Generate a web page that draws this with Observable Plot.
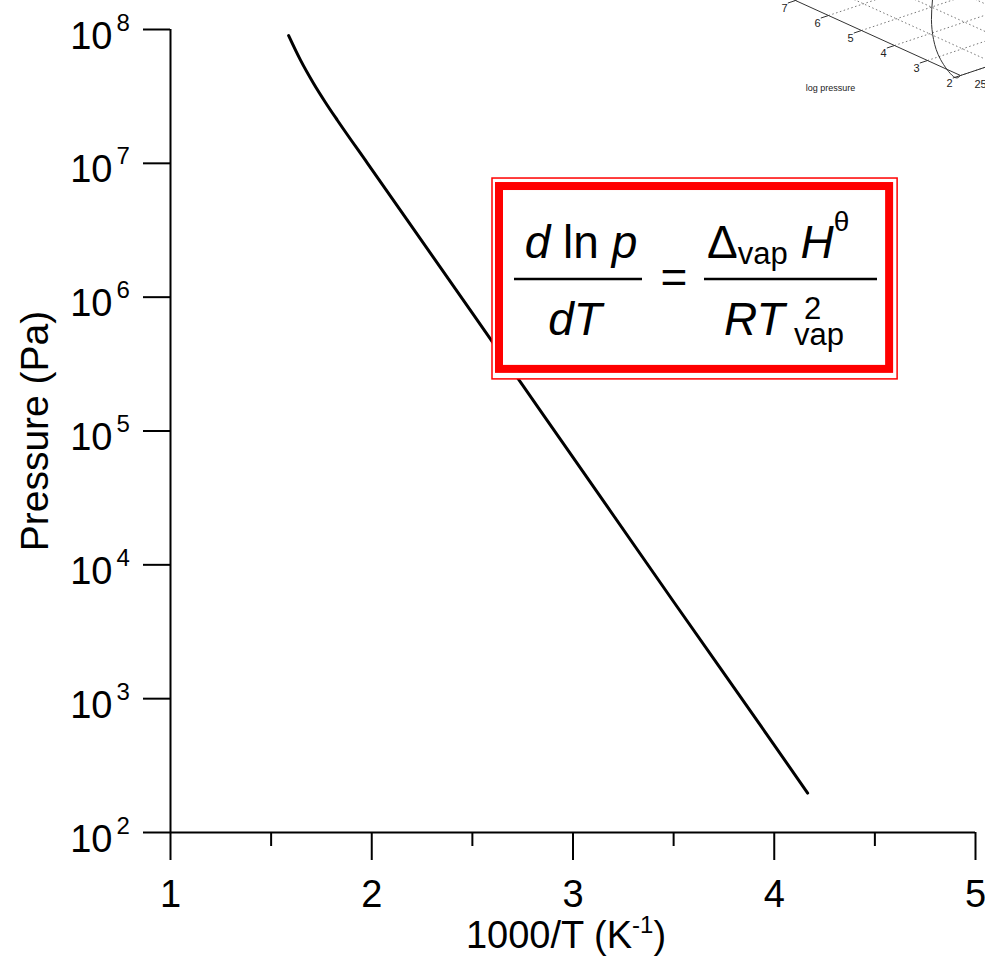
<!DOCTYPE html>
<html><head><meta charset="utf-8">
<script src="https://cdn.jsdelivr.net/npm/d3@7"></script>
<script src="https://cdn.jsdelivr.net/npm/@observablehq/plot@0.6"></script>
<style>
body{margin:0;background:#fff;font-family:"Liberation Sans",Arial,sans-serif}
#wrap{position:relative;width:985px;height:960px;overflow:hidden;background:#fff}
#inset{position:absolute;left:780px;top:0}
</style></head><body><div id="wrap"></div>
<script>
// ---- main data ----
const invT = [1.587, 1.646, 1.711, 1.77, 1.83, 1.979, 2.5, 3.0, 3.5, 4.0, 4.166];
const pressure = [9.0e7, 5.9e7, 3.95e7, 2.85e7, 2.09e7, 1.0e7, 7.6e5, 6.35e4, 5.3e3, 450, 197];
const xMajor = [1, 2, 3, 4, 5];
const xMinor = [1.5, 2.5, 3.5, 4.5];
const yExponents = [2, 3, 4, 5, 6, 7, 8];
const xTitle = "1000/T (K-1)";
const yTitle = "Pressure (Pa)";
// equation box anchor in data space
const eqX = [2.6, 4.613];
const eqY = [7.7e6, 2.43e5];

// ---- inset fragment (partial 3-D plot, cut by the page edge) ----
const insetTicks = [2, 3, 4, 5, 6, 7];
const insetGridU = [2, 3, 4, 5, 6, 7, 8, 9];
const insetGridT = [1, 2, 3, 4];
const insetCurveT = [0, -0.2, -0.57, -0.77, -0.83, -0.8];
const insetCurveZ = [0, 1.3, 22.7, 45, 65.7, 85.4];
const insetAxisTitle = "log pressure";
const insetTLabel = "250";

const font = '"Liberation Sans", Arial, sans-serif';
const line = invT.map((x, i) => ({x, p: pressure[i]}));
const decades = yExponents.map(e => ({v: Math.pow(10, e), e: String(e)}));

const svg = Plot.plot({
  width: 985, height: 960,
  marginTop: 29, marginBottom: 128, marginLeft: 170, marginRight: 10,
  style: {fontFamily: font, background: "white", color: "black"},
  x: {domain: [1, 5], axis: null},
  y: {type: "log", domain: [100, 1e8], axis: null},
  marks: [
    Plot.ruleX([1], {stroke: "black", strokeWidth: 2}),
    Plot.ruleY([100], {stroke: "black", strokeWidth: 2}),
    Plot.axisX({ticks: xMajor, tickSize: 28, tickPadding: 20, fontSize: 38, strokeWidth: 2, label: null, tickFormat: d => String(d)}),
    Plot.axisX({ticks: xMinor, tickSize: 14, strokeWidth: 2, label: null, tickFormat: () => ""}),
    Plot.axisY({ticks: decades.map(d => d.v), tickSize: 27, strokeWidth: 2, label: null, tickFormat: () => ""}),
    Plot.text(decades, {y: "v", frameAnchor: "left", text: () => "10", textAnchor: "end", lineAnchor: "bottom", dx: -58, dy: 19, fontSize: 38}),
    Plot.text(decades, {y: "v", frameAnchor: "left", text: "e", textAnchor: "start", lineAnchor: "bottom", dx: -54, dy: 1, fontSize: 24}),
    Plot.text([yTitle], {frameAnchor: "left", rotate: -90, dx: -135, fontSize: 39, textAnchor: "middle", lineAnchor: "middle"}),
    Plot.text([xTitle], {frameAnchor: "bottom", dx: -7, dy: 115, fontSize: 38, textAnchor: "middle", lineAnchor: "bottom", ariaDescription: "x-title"}),
    Plot.line(line, {x: "x", y: "p", stroke: "black", strokeWidth: 3, curve: "monotone-x"})
  ]
});

const s = d3.select(svg);
// superscript in x title
s.selectAll('g[aria-description="x-title"] text').each(function () {
  const t = d3.select(this);
  t.text("");
  t.append("tspan").text("1000/T (K");
  t.append("tspan").attr("font-size", 24).attr("dy", -15).text("-1");
  t.append("tspan").attr("dy", 15).text(")");
});

// equation box, anchored to data coordinates
const sx = svg.scale("x"), sy = svg.scale("y");
const L = sx.apply(eqX[0]), R = sx.apply(eqX[1]);
const T = sy.apply(eqY[0]), B = sy.apply(eqY[1]);
const g = s.append("g").attr("font-family", font).attr("fill", "black").attr("text-anchor", "start").attr("font-size", 46);
g.append("rect").attr("x", L).attr("y", T).attr("width", R - L).attr("height", B - T)
  .attr("fill", "white").attr("stroke", "red").attr("stroke-width", 1.5);
g.append("rect").attr("x", L + 7).attr("y", T + 8).attr("width", R - L - 15).attr("height", B - T - 18)
  .attr("fill", "none").attr("stroke", "red").attr("stroke-width", 8);
// left fraction
const n1 = g.append("text").attr("x", L + 89).attr("y", T + 80).attr("text-anchor", "middle");
n1.append("tspan").attr("font-style", "italic").text("d");
n1.append("tspan").text(" ln ");
n1.append("tspan").attr("font-style", "italic").text("p");
g.append("line").attr("x1", L + 22).attr("x2", L + 150).attr("y1", T + 101).attr("y2", T + 101).attr("stroke", "black").attr("stroke-width", 2.5);
g.append("text").attr("x", L + 83).attr("y", T + 157).attr("text-anchor", "middle").attr("font-style", "italic").text("dT");
g.append("text").attr("x", L + 182).attr("y", T + 115).attr("text-anchor", "middle").text("=");
// right fraction
const n2 = g.append("text").attr("x", L + 215).attr("y", T + 80);
n2.append("tspan").text("\u0394");
n2.append("tspan").attr("font-size", 31).attr("dy", 6).text("vap");
n2.append("tspan").attr("dy", -6).text(" ");
n2.append("tspan").attr("font-style", "italic").text("H");
n2.append("tspan").attr("font-size", 28).attr("dy", -27).text("\u03B8");
g.append("line").attr("x1", L + 212).attr("x2", L + 385).attr("y1", T + 101).attr("y2", T + 101).attr("stroke", "black").attr("stroke-width", 2.5);
g.append("text").attr("x", L + 232).attr("y", T + 157).attr("font-style", "italic").text("RT");
g.append("text").attr("x", L + 312).attr("y", T + 141).attr("font-size", 31).text("2");
g.append("text").attr("x", L + 302).attr("y", T + 167).attr("font-size", 31).text("vap");

document.getElementById("wrap").appendChild(svg);

// ---- inset ----
const P = (u, t, z = 0) => [180 - 33 * (u - 2) + 35 * t, 75 - 15 * (u - 2) - 11.7 * t - z];
const curvePts = insetCurveT.map((t, i) => P(2, t, insetCurveZ[i]));
const inset = Plot.plot({
  width: 205, height: 100, margin: 0,
  style: {fontFamily: font, background: "transparent", overflow: "hidden", color: "#222"},
  x: {domain: [0, 205], range: [0, 205], axis: null},
  y: {domain: [0, 100], range: [0, 100], axis: null},
  marks: [
    Plot.link(insetGridU, {x1: u => P(u, 0)[0], y1: u => P(u, 0)[1], x2: u => P(u, 5)[0], y2: u => P(u, 5)[1], stroke: "#777", strokeWidth: 1, strokeDasharray: "1.5,2.5"}),
    Plot.link(insetGridT, {x1: t => P(1.5, t)[0], y1: t => P(1.5, t)[1], x2: t => P(10, t)[0], y2: t => P(10, t)[1], stroke: "#777", strokeWidth: 1, strokeDasharray: "1.5,2.5"}),
    Plot.link([0], {x1: () => P(2, 0)[0], y1: () => P(2, 0)[1], x2: () => P(9, 0)[0], y2: () => P(9, 0)[1], stroke: "#333", strokeWidth: 1}),
    Plot.link([0], {x1: () => P(2, 0)[0], y1: () => P(2, 0)[1], x2: () => P(2, 3)[0], y2: () => P(2, 3)[1], stroke: "#333", strokeWidth: 1}),
    Plot.link(insetTicks, {x1: u => P(u, 0)[0], y1: u => P(u, 0)[1], x2: u => P(u, -0.22)[0], y2: u => P(u, -0.22)[1], stroke: "#333", strokeWidth: 1}),
    Plot.text(insetTicks, {x: u => P(u, 0)[0], y: u => P(u, 0)[1], dx: -11, dy: 8, text: u => String(u), fontSize: 11, fill: "#222"}),
    Plot.line(curvePts, {x: d => d[0], y: d => d[1], stroke: "#333", strokeWidth: 1, curve: "natural"}),
    Plot.text([insetAxisTitle], {x: () => P(3.17, -2.61)[0], y: () => P(3.17, -2.61)[1], fontSize: 9, fill: "#222"}),
    Plot.text([insetTLabel], {x: () => P(2, 0.4)[0], y: () => P(2, 0.4)[1], dy: 14, textAnchor: "start", fontSize: 11, fill: "#222"})
  ]
});
inset.id = "inset";
document.getElementById("wrap").appendChild(inset);
</script>
</body></html>
